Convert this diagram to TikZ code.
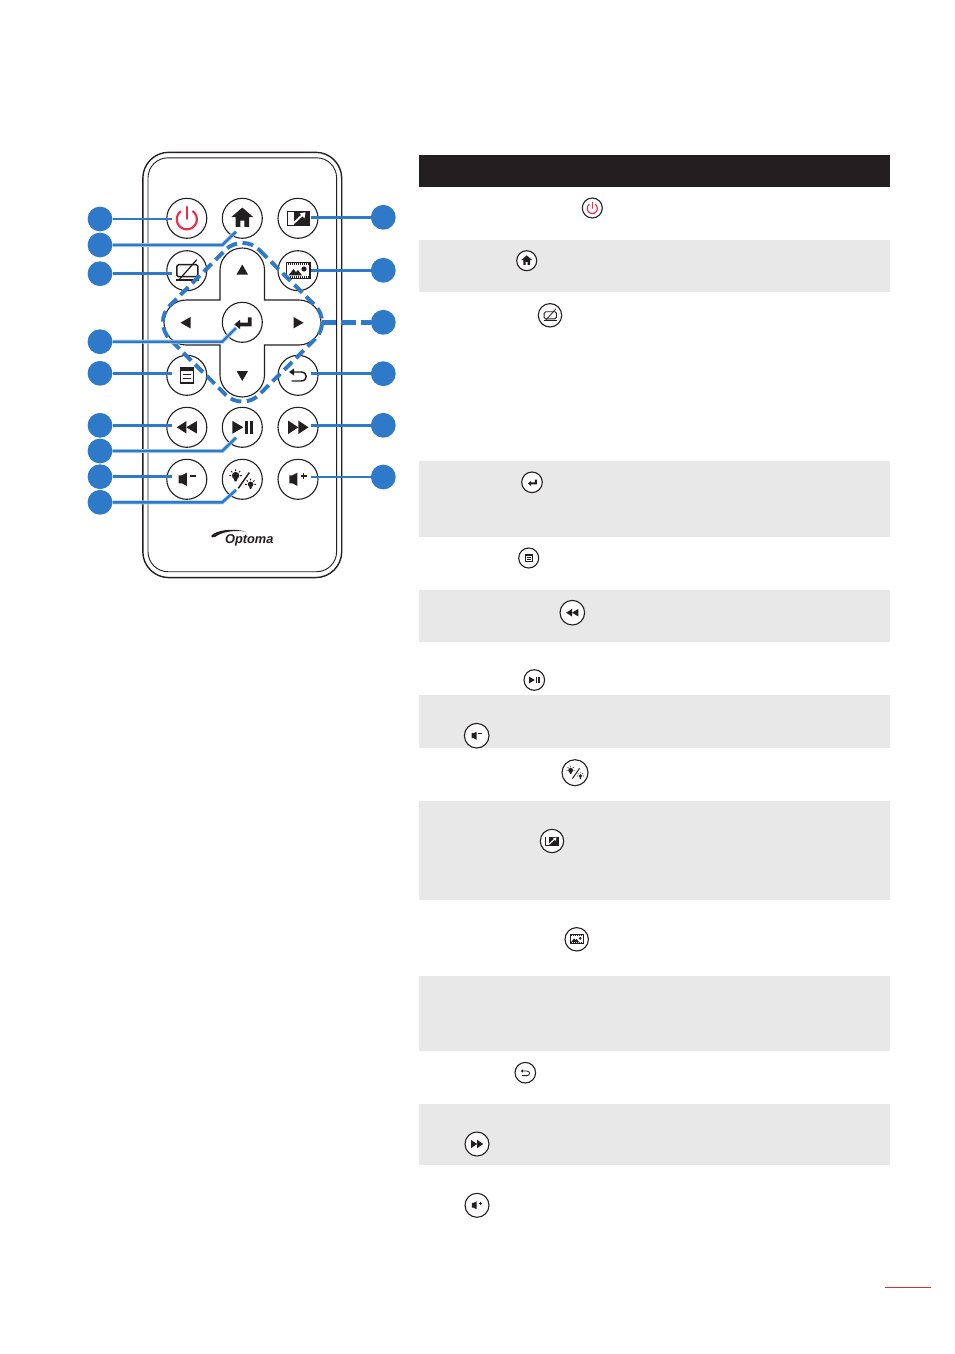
\documentclass[tikz,border=0pt]{standalone}
\usepackage{fontspec}
\setmainfont{Liberation Sans}
\usetikzlibrary{calc}
\definecolor{cblue}{HTML}{2E7AC8}
\definecolor{chalo}{HTML}{A9CBEA}
\definecolor{cdark}{HTML}{231F20}
\definecolor{cgray}{HTML}{E8E8E8}
\definecolor{cred}{HTML}{EE2C4A}
\definecolor{crule}{HTML}{D9322E}
\tikzset{
  call/.style={circle,fill=cblue,draw=none,inner sep=0pt,minimum size=24.8pt},
  conn/.style={draw=cblue,line width=2.5pt},
  elbow/.style={draw=cblue,line width=2.4pt,preaction={draw=chalo,line width=4pt}},
  ring/.style={draw=cblue,line width=3.9pt,dash pattern=on 11pt off 5.5pt},
  ringlink/.style={draw=cblue,line width=4.4pt,dash pattern=on 14.5pt off 5pt},
  band/.style={fill=cgray,draw=none},
  btn/.style={circle,draw=cdark,fill=white,inner sep=0pt,line width=1.1pt},
  ink/.style={fill=cdark,draw=none},
  ichome/.pic={\fill[cdark] (0,-10.7)--(11,-1.2)--(6.8,-1.2)--(6.8,8.5)--(2,8.5)--(2,2.2)--(-2,2.2)--(-2,8.5)--(-6.8,8.5)--(-6.8,-1.2)--(-11,-1.2)--cycle;},
  icpower/.pic={\draw[cred,line width=1.8*\pgfkeysvalueof{/tikz/icw},line cap=round] plot[domain=-52:232,samples=40] ({10*cos(\x)},{1+10*sin(\x)}); \draw[cred,line width=1.8*\pgfkeysvalueof{/tikz/icw},line cap=round] (0,-11.5)--(0,0.5);},
  icaspect/.pic={\fill[cdark] (-11.5,-7.3) rectangle (12,7.7);
     \fill[white] (-10.2,-6.2) rectangle (-4.5,6.6);
     \draw[white,line width=1.5*\pgfkeysvalueof{/tikz/icw}] (-5,5.5)--(6,-4.8);
     \fill[white] (7.5,-6)--(1.5,-5)--(6.5,0)--cycle;},
  icimage/.pic={\draw[cdark,line width=\pgfkeysvalueof{/tikz/icw}] (-11.3,-8.3) rectangle (12,7.7);
     \draw[cdark,line width=1.6*\pgfkeysvalueof{/tikz/icw},dash pattern=on 1pt off 1pt] (-10.5,-6.6)--(11.5,-6.6);
     \draw[cdark,line width=1.6*\pgfkeysvalueof{/tikz/icw},dash pattern=on 1pt off 1pt] (-10.5,6)--(11.5,6);
     \fill[cdark] (-9.5,4.6)--(-4.5,-1.5)--(-2,1.5)--(0,-0.5)--(4,4.6)--cycle;
     \fill[cdark] (6,-1.7) circle[radius=2.6pt];},
  icfreeze/.pic={\draw[cdark,line width=1.15*\pgfkeysvalueof{/tikz/icw},rounded corners=1.5pt] (-10,-6) rectangle (11,6);
     \draw[cdark,line width=\pgfkeysvalueof{/tikz/icw}] (-11,9.3)--(12,9.3);
     \draw[cdark,line width=\pgfkeysvalueof{/tikz/icw}] (10,-11)--(-8,9.3);},
  icmenu/.pic={\draw[cdark,line width=1.2*\pgfkeysvalueof{/tikz/icw}] (-6.5,-8) rectangle (6.5,7.7);
     \fill[cdark] (-6.5,-8) rectangle (6.5,-4);
     \draw[cdark,line width=\pgfkeysvalueof{/tikz/icw}] (-4,-0.5)--(4,-0.5);
     \draw[cdark,line width=\pgfkeysvalueof{/tikz/icw}] (-4,3.5)--(4,3.5);},
  icback/.pic={\draw[cdark,line width=1.2*\pgfkeysvalueof{/tikz/icw}] (-5,-3.3)--(3,-3.3) .. controls (10,-3.3) and (10,5.7) .. (3,5.7)--(-6.5,5.7);
     \fill[cdark] (-9,-3.3)--(-4,-6.8)--(-4,0.2)--cycle;},
  icrew/.pic={\fill[cdark] (-10,0)--(-0.5,-6.2)--(-0.5,6.2)--cycle; \fill[cdark] (-0.5,0)--(10,-6.2)--(10,6.2)--cycle;},
  icff/.pic={\fill[cdark] (10.5,0)--(0.3,-6.8)--(0.3,6.8)--cycle; \fill[cdark] (0.3,0)--(-10,-6.8)--(-10,6.8)--cycle;},
  icplay/.pic={\fill[cdark] (-10,-6.5)--(1,0)--(-10,6.5)--cycle;
     \fill[cdark] (2.7,-6.5) rectangle (5.3,6.5); \fill[cdark] (7.7,-6.5) rectangle (10.3,6.5);},
  icvolm/.pic={\fill[cdark] (-8.3,-4)--(-5,-4)--(0,-6.6)--(0,6.6)--(-5,4)--(-8.3,4)--cycle;
     \draw[cdark,line width=\pgfkeysvalueof{/tikz/icw}] (2.7,-3.3)--(9,-3.3);},
  icvolp/.pic={\fill[cdark] (-8.7,-4)--(-5.5,-4)--(-0.7,-6.6)--(-0.7,6.6)--(-5.5,4)--(-8.7,4)--cycle;
     \draw[cdark,line width=\pgfkeysvalueof{/tikz/icw}] (2.5,-3.3)--(8.5,-3.3) (5.5,-6.3)--(5.5,-0.3);},
  icbright/.pic={\draw[cdark,line width=1.2*\pgfkeysvalueof{/tikz/icw}] (7,-6.7)--(-4,9);
     \fill[cdark] (-6.7,-3.7) circle[radius=3.7pt]; \fill[cdark] (-8.7,-1)--(-4.7,-1)--(-5.8,2)--(-7.6,2)--cycle;
     \fill[cdark] (8.3,5) circle[radius=2.8pt]; \fill[cdark] (6.8,7)--(9.8,7)--(9,9.5)--(7.6,9.5)--cycle;
     \draw[cdark,line width=0.7*\pgfkeysvalueof{/tikz/icw}] (-6.7,-10)--(-6.7,-8.3) (-11.3,-8.3)--(-10,-7) (-2.1,-8.3)--(-3.4,-7) (-13,-3.7)--(-11.2,-3.7) (-2.2,-3.7)--(-0.4,-3.7);
     \draw[cdark,line width=0.7*\pgfkeysvalueof{/tikz/icw}] (8.3,-0.7)--(8.3,1) (4.4,1)--(5.5,2.2) (12.2,1)--(11.1,2.2) (2.8,5)--(4.5,5) (12.1,5)--(13.8,5);},
  icenter/.pic={\fill[cdark] (-8,2.2)--(-2.3,-2.5)--(-2.3,0.3)--(5.5,0.3)--(5.5,-5)--(9.3,-5)--(9.3,4)--(-2.3,4)--(-2.3,6.8)--cycle;},
  icw/.initial=1pt
}
% \ibtn{name}{x}{y}{radius}{icon}
\newcommand{\ibtn}[5]{\node[btn,minimum size=#4*2pt] (#1) at (#2,#3) {}; \pgfmathsetmacro{\ics}{#4/20}\tikzset{icw=#4*0.055pt+0.15pt}\pic[scale=\ics] at (#1) {#5};}
\begin{document}
\begin{tikzpicture}[x=1pt,y=-1pt]
\useasboundingbox (0,0) rectangle (954,1354);
\fill[white] (0,0) rectangle (954,1354);
% table
\fill[cdark] (419,155) rectangle (890,187);
\foreach \a/\b in {239.5/292,461/537,590/642,695/748,801/900,976/1051,1104/1165}
  \path[band] (419,\a) rectangle (890,\b);
\draw[crule,line width=1pt] (885,1287.5)--(931,1287.5);
% remote body
\draw[cdark,line width=1.4pt,rounded corners=26pt] (142.8,152.3) rectangle (341.7,577.6);
\draw[cdark,line width=0.9pt,rounded corners=20pt] (148,157.8) rectangle (336.6,571.7);
% buttons
\ibtn{bpower}{186.8}{218.3}{20}{icpower}
\ibtn{bhome}{242.3}{218.3}{20}{ichome}
\ibtn{baspect}{298}{218.3}{20}{icaspect}
\ibtn{bfreeze}{186.8}{270.7}{20}{icfreeze}
\ibtn{bimage}{298}{270.7}{20}{icimage}
\ibtn{bmenu}{186.8}{375.3}{20}{icmenu}
\ibtn{bback}{298}{375.3}{20}{icback}
\ibtn{brew}{186.8}{427.3}{20}{icrew}
\ibtn{bplay}{242.3}{427.3}{20}{icplay}
\ibtn{bff}{298}{427.3}{20}{icff}
\ibtn{bvolm}{186.8}{479.3}{20}{icvolm}
\ibtn{bbright}{242.3}{479.3}{20}{icbright}
\ibtn{bvolp}{298}{479.3}{20}{icvolp}
% d-pad
\draw[cdark,line width=1.1pt,fill=white] (220,300)--(220,270) .. controls (220,258) and (230,248) .. (242.3,248) .. controls (254.5,248) and (264.5,258) .. (264.5,270)--(264.5,300)--(299,300) .. controls (311,300) and (321,310) .. (321,322.5) .. controls (321,335) and (311,345) .. (299,345)--(264.5,345)--(264.5,375) .. controls (264.5,387) and (254.5,397) .. (242.3,397) .. controls (230,397) and (220,387) .. (220,375)--(220,345)--(186,345) .. controls (174,345) and (164,335) .. (164,322.5) .. controls (164,310) and (174,300) .. (186,300)--cycle;
\fill[cdark] (242.3,264.5)--(248,274.5)--(236.6,274.5)--cycle;
\fill[cdark] (242.3,381)--(248,371)--(236.6,371)--cycle;
\fill[cdark] (180.5,322.7)--(190.5,317)--(190.5,328.4)--cycle;
\fill[cdark] (303.5,322.7)--(293.5,317)--(293.5,328.4)--cycle;
\ibtn{benter}{242.3}{322.3}{20}{icenter}
% dashed ring
\draw[ring,rounded corners=24pt] (242.3,233)--(332,322.3)--(242.3,411.5)--(153,322.3)--cycle;
\coordinate (ringE) at (321.5,322.3);
% logo
\node[inner sep=0pt,text=cdark] (logo) at (249.3,540.3) {\fontsize{12.8}{15}\selectfont\bfseries\itshape Optoma};
\fill[cdark] (211,536) .. controls (216,530) and (232,528) .. (246,531.5) .. controls (232,530) and (222,532) .. (215,537) .. controls (213,538) and (212,537.5) .. (211,536)--cycle;
% callouts
\node[call] (L1) at (100,219) {};
\node[call] (L2) at (100,245) {};
\node[call] (L3) at (100,273.7) {};
\node[call] (L4) at (100,341.7) {};
\node[call] (L5) at (100,373.3) {};
\node[call] (L6) at (100,425.3) {};
\node[call] (L7) at (100,451) {};
\node[call] (L8) at (100,476.7) {};
\node[call] (L9) at (100,502.3) {};
\node[call] (R1) at (383.3,217.3) {};
\node[call] (R2) at (383.3,270.3) {};
\node[call] (R3) at (383.3,322.3) {};
\node[call] (R4) at (383.3,373.7) {};
\node[call] (R5) at (383.3,425.3) {};
\node[call] (R6) at (383.3,477) {};
% connectors
\draw[conn] (L1) -- ([xshift=-14.5pt]L1 -| bpower.center);
\draw[conn] (L3) -- ([xshift=-14.5pt]L3 -| bfreeze.center);
\draw[conn] (L5) -- ([xshift=-14.5pt]L5 -| bmenu.center);
\draw[conn] (L6) -- ([xshift=-14.5pt]L6 -| brew.center);
\draw[conn] (L8) -- ([xshift=-14.5pt]L8 -| bvolm.center);
\draw[elbow] (L2) -- ([xshift=-20pt]L2 -| bhome.center) -- ($(bhome.center)+(-6.3,13.4)$);
\draw[elbow] (L4) -- ([xshift=-20pt]L4 -| benter.center) -- ($(benter.center)+(-6.3,5.7)$);
\draw[elbow] (L7) -- ([xshift=-20pt]L7 -| bplay.center) -- ($(bplay.center)+(-6.3,10.4)$);
\draw[elbow] (L9) -- ([xshift=-20pt]L9 -| bbright.center) -- ($(bbright.center)+(-6.3,10.7)$);
\draw[conn] (R1) -- ([xshift=13pt]R1 -| baspect.center);
\draw[conn] (R2) -- ([xshift=13pt]R2 -| bimage.center);
\draw[conn] (R4) -- ([xshift=13pt]R4 -| bback.center);
\draw[conn] (R5) -- ([xshift=13pt]R5 -| bff.center);
\draw[conn] (R6) -- ([xshift=13pt]R6 -| bvolp.center);
\draw[ringlink] (ringE) -- (R3);
% small icons in the table
\ibtn{spower}{592.3}{208}{10}{icpower}
\ibtn{shome}{526.7}{260.7}{10}{ichome}
\ibtn{sfreeze}{550}{315.3}{11.7}{icfreeze}
\ibtn{senter}{532}{482.3}{10.3}{icenter}
\ibtn{smenu}{528.7}{558}{10}{icmenu}
\ibtn{srew}{572.3}{612.7}{12.3}{icrew}
\ibtn{splay}{534.3}{680}{10.3}{icplay}
\ibtn{svolm}{476.7}{735.7}{12.3}{icvolm}
\ibtn{sbright}{575}{772.7}{13}{icbright}
\ibtn{saspect}{552}{841}{11.7}{icaspect}
\ibtn{simage}{576.7}{939.3}{11.7}{icimage}
\ibtn{sback}{525.3}{1072.7}{10.3}{icback}
\ibtn{sff}{477}{1144}{12}{icff}
\ibtn{svolp}{477}{1205.3}{12}{icvolp}
\end{tikzpicture}
\end{document}
